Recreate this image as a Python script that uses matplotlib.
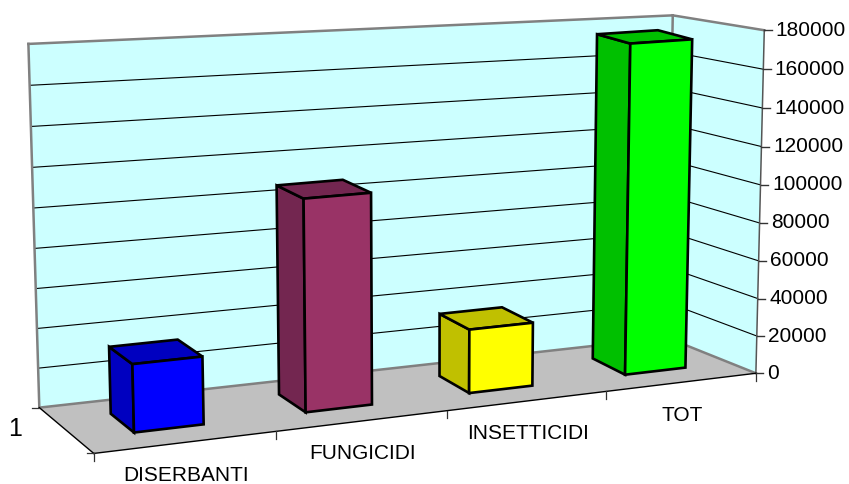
import numpy as np
import matplotlib
matplotlib.use("Agg")
import matplotlib.pyplot as plt
from matplotlib.patches import Polygon

plt.rcParams['font.family'] = ['Liberation Sans', 'DejaVu Sans']

# data
categories = ["DISERBANTI", "FUNGICIDI", "INSETTICIDI", "TOT"]
values = [34500, 109000, 33500, 175000]
tick_values = [0, 20000, 40000, 60000, 80000, 100000, 120000, 140000, 160000, 180000]
series_name = "1"
front_colors = ["#0000FF", "#993366", "#FFFF00", "#00FF00"]
shade_colors = ["#0000C0", "#732650", "#C0C000", "#00C000"]

YMAX = 180000.0
# camera calibration: box corner (x, y, depth) -> picture position
box = [(0, 0, 0), (1, 0, 0), (1, 0, 1), (0, 0, 1), (0, 1, 0), (1, 1, 0), (1, 1, 1)]
pic = [(39, 407), (668, 338), (755, 373), (94, 454), (28.5, 44), (672, 15.5), (765, 30)]


def camera(box_pts, pic_pts):
    M, b = [], []
    for (X, Y, Z), (px, py) in zip(box_pts, pic_pts):
        M.append([X, Y, Z, 1, 0, 0, 0, 0, -px*X, -px*Y, -px*Z]); b.append(px)
        M.append([0, 0, 0, 0, X, Y, Z, 1, -py*X, -py*Y, -py*Z]); b.append(py)
    sol = np.linalg.lstsq(np.array(M, float), np.array(b, float), rcond=None)[0]
    return np.append(sol, 1).reshape(3, 4)


P_frame = camera(box, pic)
# the bars follow a slightly flatter perspective than the frame
P_bars = camera(box + [(0, 1, 1)], pic + [(85, 89)])


def proj(x, v, z, P=P_frame):
    h = P @ np.array([x, v / YMAX, z, 1.0])
    return h[0] / h[2], h[1] / h[2]


fig = plt.figure(figsize=(8.49, 4.84), dpi=100, facecolor="white")
ax = fig.add_axes([0, 0, 1, 1])
ax.set_xlim(0, 849)
ax.set_ylim(484, 0)
ax.axis("off")


def face(pts, fc, ec="none", lw=0, z=1, P=P_frame):
    ax.add_patch(Polygon([proj(*p, P) for p in pts], closed=True, fc=fc, ec=ec, lw=lw, joinstyle="miter", zorder=z))


def seg(a, b, color, lw, z=2):
    pa, pb = proj(*a), proj(*b)
    ax.plot([pa[0], pb[0]], [pa[1], pb[1]], color=color, lw=lw, zorder=z, solid_capstyle="projecting")


WALL = "#CCFFFF"
FLOOR = "#C0C0C0"
GRAY = "#808080"
face([(0, 0, 0), (1, 0, 0), (1, YMAX, 0), (0, YMAX, 0)], WALL)
face([(1, 0, 0), (1, 0, 1), (1, YMAX, 1), (1, YMAX, 0)], WALL)
face([(0, 0, 0), (1, 0, 0), (1, 0, 1), (0, 0, 1)], FLOOR)

for t in tick_values[1:-1]:
    seg((0, t, 0), (1, t, 0), "#000000", 0.8)
    seg((1, t, 0), (1, t, 1), "#000000", 0.8)

# wall borders
for a, b_ in [((0, 0, 0), (0, YMAX, 0)), ((0, YMAX, 0), (1, YMAX, 0)), ((1, YMAX, 0), (1, YMAX, 1)),
              ((1, 0, 0), (1, YMAX, 0)), ((0, 0, 0), (1, 0, 0)), ((1, 0, 0), (1, 0, 1))]:
    seg(a, b_, GRAY, 1.8, 3)

# value axis
seg((1, 0, 1), (1, YMAX, 1), "#555555", 1.1, 3)
for t in tick_values:
    px, py = proj(1, t, 1)
    ax.plot([px, px + 7.5], [py, py], color="#333333", lw=1.0, zorder=3)
    ax.text(px + 11.5, py, str(t), ha="left", va="center", fontsize=15, color="black", zorder=6)

# floor front edges and category ticks
seg((0, 0, 0), (0, 0, 1), "#000000", 1.0, 3)
seg((0, 0, 1), (1, 0, 1), "#000000", 1.0, 3)
for i in range(5):
    px, py = proj(i / 4, 0, 1)
    ax.plot([px, px], [py, py + 7.5], color="#333333", lw=0.9, zorder=3)
px, py = proj(0, 0, 0)
ax.plot([px - 7, px], [py, py], color="#333333", lw=0.9, zorder=3)
px, py = proj(0, 0, 1)
ax.plot([px - 7, px], [py, py], color="#333333", lw=0.9, zorder=3)

# bars
half = 0.2 / 4
shift = 0.0055
d0, d1 = 0.30, 0.69
for i, (v, fc, sc) in enumerate(zip(values, front_colors, shade_colors)):
    c = (i + 0.5) / 4 + shift
    x0, x1 = c - half, c + half
    z = 4 + i * 0.01
    kw = dict(ec="black", lw=1.9, z=z, P=P_bars)
    face([(x0, 0, d0), (x0, 0, d1), (x0, v, d1), (x0, v, d0)], sc, **kw)
    face([(x0, v, d0), (x1, v, d0), (x1, v, d1), (x0, v, d1)], sc, **kw)
    face([(x0, 0, d1), (x1, 0, d1), (x1, v, d1), (x0, v, d1)], fc, **kw)

# labels
for i, name in enumerate(categories):
    px, py = proj((i + 0.5) / 4, 0, 1)
    ax.text(px, py + 33, name, ha="center", va="center", fontsize=15, color="black", zorder=6)

ax.text(15, 429, series_name, ha="center", va="center", fontsize=18, color="black", zorder=6)

fig.savefig("out.png", dpi=100, facecolor="white")
